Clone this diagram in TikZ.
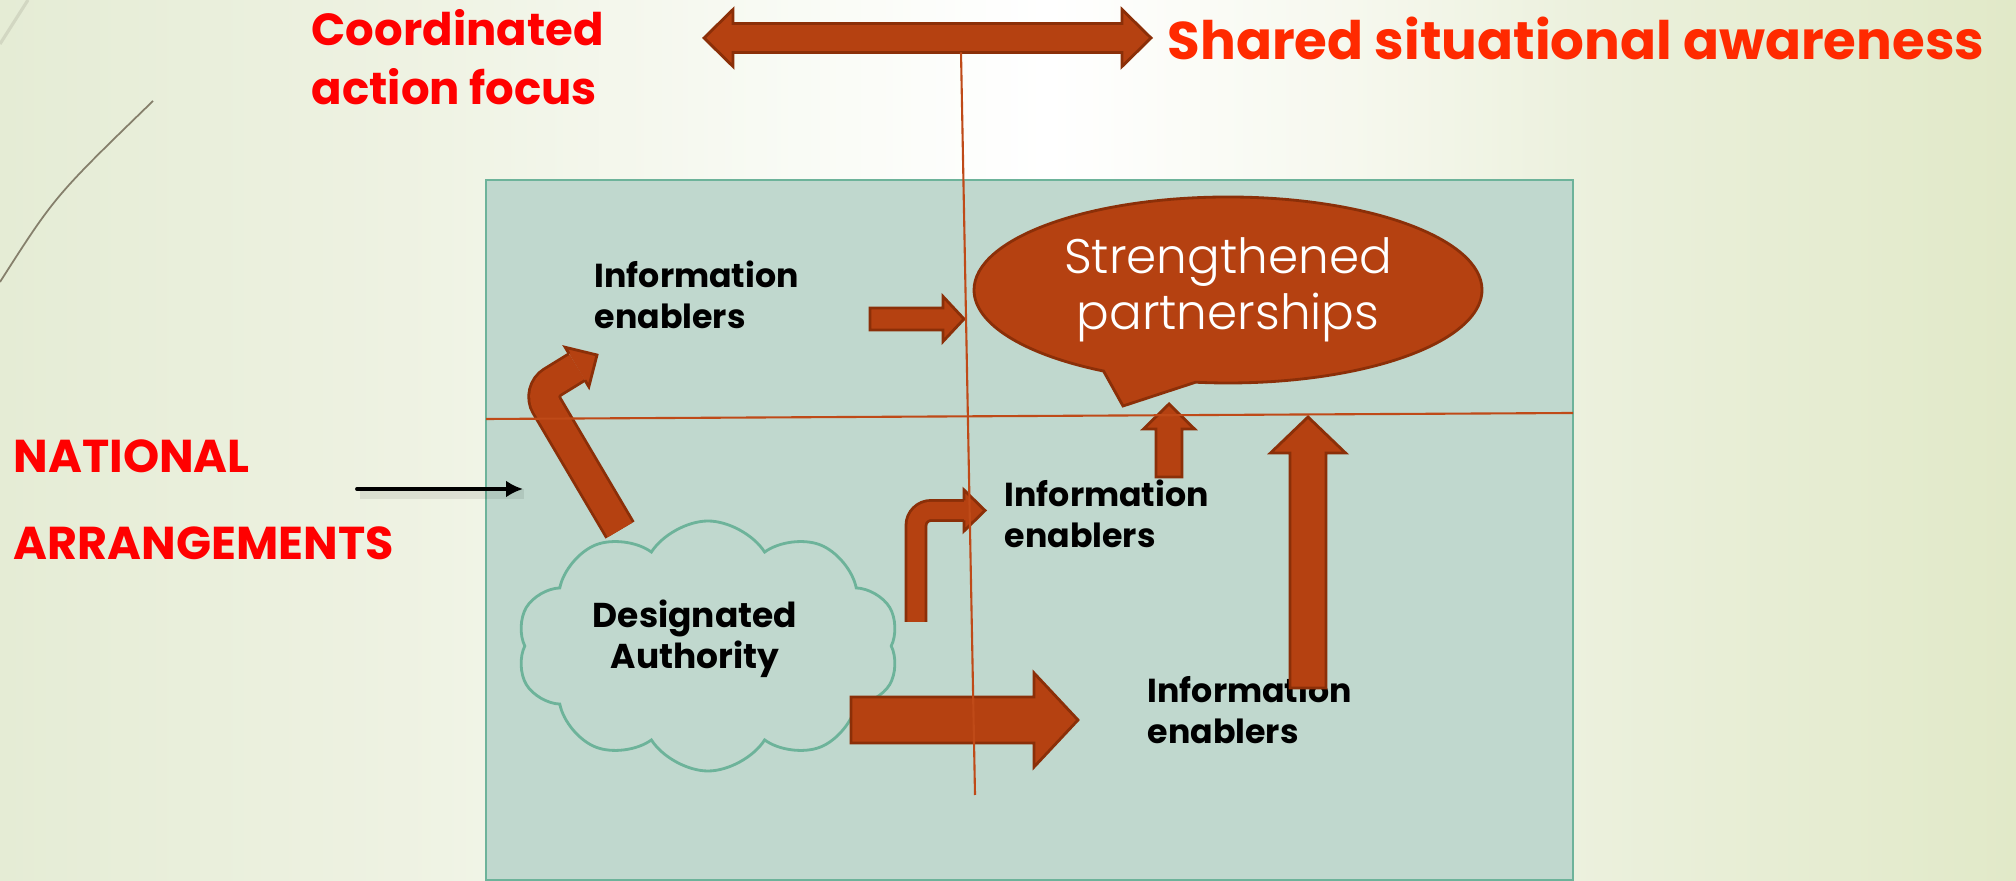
\documentclass[tikz,border=0pt]{standalone}
\usepackage{fontspec}
\setmainfont{Poppins}
\IfFontExistsTF{Poppins Light}{\newfontfamily\thinfont{Poppins Light}}{\newfontfamily\thinfont{Poppins}}
\usepackage{xcolor}
\usetikzlibrary{arrows.meta,positioning,calc,shapes.symbols,shapes.callouts}

\definecolor{rust}{HTML}{B54111}
\definecolor{rustline}{HTML}{8B2F08}
\definecolor{guidecol}{HTML}{BF4A18}
\definecolor{panel}{HTML}{C0D8CE}
\definecolor{panelline}{HTML}{6DB39A}
\definecolor{titlered}{HTML}{FF0000}
\definecolor{sharedred}{HTML}{FF2A00}
\definecolor{twig}{HTML}{857F6B}
\definecolor{twigfaint}{HTML}{D2D7C2}
\definecolor{bgL}{HTML}{E5ECD5}
\definecolor{bgA}{HTML}{EEF2E2}
\definecolor{bgB}{HTML}{F9FBF5}
\definecolor{bgC}{HTML}{F6F8EE}
\definecolor{bgD}{HTML}{EBF0DC}
\definecolor{bgR}{HTML}{E1E9C8}

\pgfdeclarehorizontalshading{slidebg}{100bp}{color(0bp)=(bgL); color(25bp)=(bgL);
  color(34.9bp)=(bgA); color(44.8bp)=(bgB); color(51bp)=(white);
  color(58.5bp)=(bgC); color(64.7bp)=(bgD); color(75bp)=(bgR); color(100bp)=(bgR)}

% straight block arrow: tail, tip, half shaft, half head, head length
\newcommand{\blockarrow}[5]{%
  \coordinate (bah) at ($(#2)!#5!(#1)$);
  \draw[blockfill] ($(#1)!#3!90:(#2)$) -- ($(bah)!#3!90:(#2)$)
    -- ($(bah)!#4!90:(#2)$) -- (#2) -- ($(bah)!#4!-90:(#2)$)
    -- ($(bah)!#3!-90:(#2)$) -- ($(#1)!#3!-90:(#2)$) -- cycle;}

% block arrow with a head at both ends
\newcommand{\twowayarrow}[5]{%
  \coordinate (twa) at ($(#1)!#5!(#2)$);
  \coordinate (twb) at ($(#2)!#5!(#1)$);
  \draw[blockfill] (#1) -- ($(twa)!#4!90:(#2)$) -- ($(twa)!#3!90:(#2)$)
    -- ($(twb)!#3!90:(#2)$) -- ($(twb)!#4!90:(#2)$) -- (#2)
    -- ($(twb)!#4!-90:(#2)$) -- ($(twb)!#3!-90:(#2)$)
    -- ($(twa)!#3!-90:(#2)$) -- ($(twa)!#4!-90:(#2)$) -- cycle;}

% bent block arrow: tail, bend, head base, tip, half shaft, half head, bend radius
\newcommand{\bentarrow}[7]{%
  \draw[rustline,line width=2*#5+0.8pt,rounded corners=#7] (#1) -- (#2) -- (#3);
  \draw[rust,line width=2*#5-0.8pt,rounded corners=#7] (#1) -- (#2) -- (#3);
  \fill[rust] ($(#3)!#6!90:(#4)$) -- (#4) -- ($(#3)!#6!-90:(#4)$) -- cycle;
  \draw[rustline,line width=0.8pt,line join=miter] ($(#3)!#5!90:(#4)$)
    -- ($(#3)!#6!90:(#4)$) -- (#4) -- ($(#3)!#6!-90:(#4)$) -- ($(#3)!#5!-90:(#4)$);}

\begin{document}
\begin{tikzpicture}[>=Latex,
blockfill/.style={fill=rust,draw=rustline,line width=0.8pt,line join=miter},
guide/.style={draw=guidecol,line width=0.6pt},
redtitle/.style={text=titlered,font=\fontsize{12.8}{16.8}\selectfont\bfseries,align=left,anchor=west,inner sep=0pt},
infotext/.style={font=\fontsize{9.45}{11.7}\selectfont\bfseries,align=left,anchor=west,inner sep=0pt},
cloudbox/.style={cloud,cloud puffs=10,cloud puff arc=115,draw=panelline,line width=0.8pt,minimum width=3.82cm,minimum height=2.5cm},
bubble/.style={ellipse callout,fill=rust,draw=rustline,line width=0.8pt,text=white,align=center,inner sep=0pt,font=\fontsize{13.8}{16}\thinfont}]
\useasboundingbox (0,0) rectangle (20.16,8.81);
\shade[shading=slidebg] (0,0) rectangle (20.16,8.81);
\draw[twig,line width=0.5pt] (0,5.99) .. controls (0.55,6.85) .. (1.53,7.80);
\draw[twigfaint,line width=0.9pt] (0,8.37) -- (0.28,8.81);

% headings round the panel
\node[redtitle] (caf) at (3.11,8.235) {Coordinated\\action focus};
\node[redtitle,text=sharedred,font=\fontsize{15.1}{19}\selectfont\bfseries] (ssa) at (11.67,8.43) {Shared situational awareness};
\node[redtitle,font=\fontsize{13.1}{15}\selectfont\bfseries] (nat) at (0.13,4.25) {NATIONAL};
\node[redtitle,font=\fontsize{13.1}{15}\selectfont\bfseries] (arr) at (0.13,3.38) {ARRANGEMENTS};
\coordinate (saL) at (7.04,8.43);
\coordinate (saR) at (11.51,8.43);
\twowayarrow{saL}{saR}{0.145cm}{0.285cm}{0.29cm}

\node[draw=panelline,fill=panel,line width=0.6pt,minimum width=10.87cm,minimum height=7cm,inner sep=0pt] (panel) at (10.295,3.51) {};

\node[infotext] (ie1) at (5.94,5.865) {Information\\enablers};
\node[infotext] (ie2) at (10.04,3.675) {Information\\enablers};
\node[infotext] (ie3) at (11.47,1.71) {Information\\enablers};
\node[cloudbox] (da) at (7.08,2.35) {};
\node[infotext,align=center,anchor=center,font=\fontsize{9.8}{11.7}\selectfont\bfseries] (dalbl) at (6.95,2.425) {Designated\\Authority};

% flows
\coordinate (a1s) at (8.70,5.62);
\coordinate (a1e) at (9.64,5.62);
\blockarrow{a1s}{a1e}{0.11cm}{0.225cm}{0.21cm}
\coordinate (b1a) at (6.20,3.51);
\coordinate (b1b) at (5.38,4.90);
\coordinate (b1c) at (5.77,5.14);
\coordinate (b1d) at (5.97,5.26);
\bentarrow{b1a}{b1b}{b1c}{b1d}{0.155cm}{0.23cm}{0.17cm}
\coordinate (b2a) at (9.16,2.59);
\coordinate (b2b) at (9.16,3.705);
\coordinate (b2c) at (9.64,3.705);
\coordinate (b2d) at (9.85,3.705);
\bentarrow{b2a}{b2b}{b2c}{b2d}{0.10cm}{0.205cm}{0.15cm}
\coordinate (a2s) at (8.51,1.61);
\coordinate (a2e) at (10.78,1.61);
\blockarrow{a2s}{a2e}{0.23cm}{0.47cm}{0.44cm}
\coordinate (a3s) at (11.69,4.04);
\coordinate (a3e) at (11.69,4.77);
\blockarrow{a3s}{a3e}{0.13cm}{0.255cm}{0.25cm}
\coordinate (a4s) at (13.08,1.93);
\coordinate (a4e) at (13.08,4.64);
\blockarrow{a4s}{a4e}{0.18cm}{0.375cm}{0.36cm}

\node[bubble,minimum width=5.08cm,minimum height=1.86cm,callout absolute pointer={(11.23,4.75)},callout pointer arc=22] (sp) at (12.28,5.91) {Strengthened\\partnerships};

\coordinate (vt) at (9.61,8.285);
\coordinate (vb) at (9.75,0.86);
\coordinate (hl) at (4.86,4.62);
\coordinate (hr) at (15.73,4.68);
\draw[guide] (vt) -- (vb);
\draw[guide] (hl) -- (hr);

\coordinate (natA) at (3.57,3.92);
\coordinate (natB) at (5.23,3.92);
\draw[black,opacity=0.08,line width=3pt] ($(natA)+(0.03,-0.05)$) -- ($(natB)+(0.01,-0.05)$);
\draw[->,line width=1.1pt,line cap=round,>={Latex[length=1.7mm,width=1.7mm]}] (natA) -- (natB);
\end{tikzpicture}
\end{document}
